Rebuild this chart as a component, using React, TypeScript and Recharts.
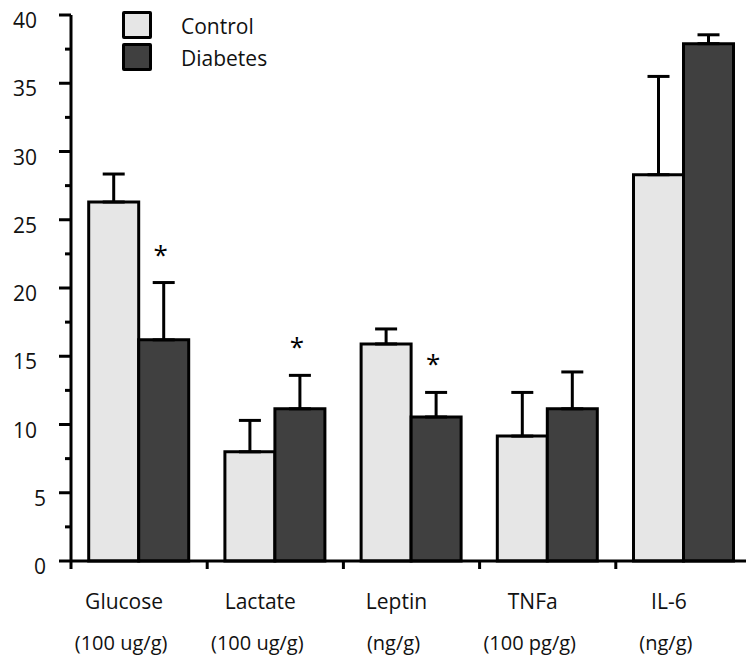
import { BarChart, Bar, XAxis, YAxis, ErrorBar, LabelList, Legend } from 'recharts';

const categories = ['Glucose', 'Lactate', 'Leptin', 'TNFa', 'IL-6'];
const units = ['(100 ug/g)', '(100 ug/g)', '(ng/g)', '(100 pg/g)', '(ng/g)'];
const control = [26.3, 8.0, 15.9, 9.15, 28.3];
const controlErr = [2.05, 2.3, 1.1, 3.2, 7.2];
const diabetes = [16.2, 11.15, 10.55, 11.15, 37.9];
const diabetesErr = [4.2, 2.45, 1.8, 2.7, 0.65];
const significant = [true, true, true, false, false];
const yTicks = [0, 2.5, 5, 7.5, 10, 12.5, 15, 17.5, 20, 22.5, 25, 27.5, 30, 32.5, 35, 37.5, 40];

const data = categories.map((name, i) => ({
  name,
  control: control[i],
  controlErr: [0, controlErr[i]],
  diabetes: diabetes[i],
  diabetesErr: [0, diabetesErr[i]],
}));

const FONT = "'Open Sans', 'Noto Sans', sans-serif";

const ValueTick = (props: any) => {
  const { x, y, payload } = props;
  const v = payload.value;
  const major = v % 5 === 0;
  return (
    <g>
      <line x1={x - (major ? 12 : 6)} x2={x} y1={y} y2={y} stroke="#000" strokeWidth={3} />
      {major && (
        <text x={v < 10 ? x - 25 : x - 34} y={y + 13} textAnchor="end" fontFamily={FONT} fontSize={21} fill="#111">
          {v}
        </text>
      )}
    </g>
  );
};

const CategoryTick = (props: any) => {
  const { x, y, payload, index } = props;
  const half = payload.offset || 68;
  return (
    <g>
      <line x1={x - half} x2={x - half} y1={y} y2={y + 8} stroke="#000" strokeWidth={3} />
      <text x={x - 15} y={y + 48} textAnchor="middle" fontFamily={FONT} fontSize={21} fill="#111">
        {payload.value}
      </text>
      <text x={x - 18} y={y + 89} textAnchor="middle" fontFamily={FONT} fontSize={20} fill="#111">
        {units[index]}
      </text>
    </g>
  );
};

const Asterisk = (props: any) => {
  const { x, y, width, height, value, index } = props;
  if (!significant[index]) return null;
  const errTop = y - (diabetesErr[index] * height) / value;
  return (
    <text x={x + width / 2 - 3} y={errTop - 19} textAnchor="middle" fontFamily={FONT} fontSize={26} fill="#000">
      *
    </text>
  );
};

const LegendBox = ({ payload }: any) => (
  <div style={{ position: 'relative', width: 200, height: 80, fontFamily: FONT }}>
    {(payload || []).map((entry: any, i: number) => (
      <div key={entry.value}>
        <div
          style={{
            position: 'absolute',
            left: 122,
            top: 11 + i * 32,
            width: 24,
            height: 22,
            background: entry.color,
            border: '3px solid #000',
            borderRadius: 2,
          }}
        />
        <div style={{ position: 'absolute', left: 181, top: 12 + i * 32, fontSize: 21, lineHeight: '28px', color: '#111' }}>
          {entry.value}
        </div>
      </div>
    ))}
  </div>
);

export default function App() {
  return (
    <div style={{ position: 'absolute', top: 0, left: 0, width: 746, height: 657, overflow: 'hidden', background: '#fff' }}>
      <BarChart width={760} height={657} data={data} margin={{ top: 15, right: 8, bottom: 0, left: 0 }} barCategoryGap="13%" barGap={0}>
        <XAxis
          dataKey="name"
          height={96}
          tickSize={0}
          tickMargin={0}
          axisLine={{ stroke: '#000', strokeWidth: 3 }}
          tickLine={false}
          tick={<CategoryTick />}
          interval={0}
        />
        <YAxis
          width={71}
          domain={[0, 40]}
          ticks={yTicks}
          interval={0}
          tickSize={0}
          tickMargin={0}
          axisLine={{ stroke: '#000', strokeWidth: 3 }}
          tickLine={false}
          tick={<ValueTick />}
        />
        <Legend verticalAlign="middle" layout="horizontal" wrapperStyle={{ top: 0, left: 0 }} content={<LegendBox />} />
        <Bar dataKey="control" name="Control" fill="#e6e6e6" stroke="#000" strokeWidth={3} isAnimationActive={false}>
          <ErrorBar dataKey="controlErr" width={11} stroke="#000" strokeWidth={3} direction="y" />
        </Bar>
        <Bar dataKey="diabetes" name="Diabetes" fill="#404040" stroke="#000" strokeWidth={3} isAnimationActive={false}>
          <ErrorBar dataKey="diabetesErr" width={11} stroke="#000" strokeWidth={3} direction="y" />
          <LabelList dataKey="diabetes" content={<Asterisk />} />
        </Bar>
      </BarChart>
    </div>
  );
}
